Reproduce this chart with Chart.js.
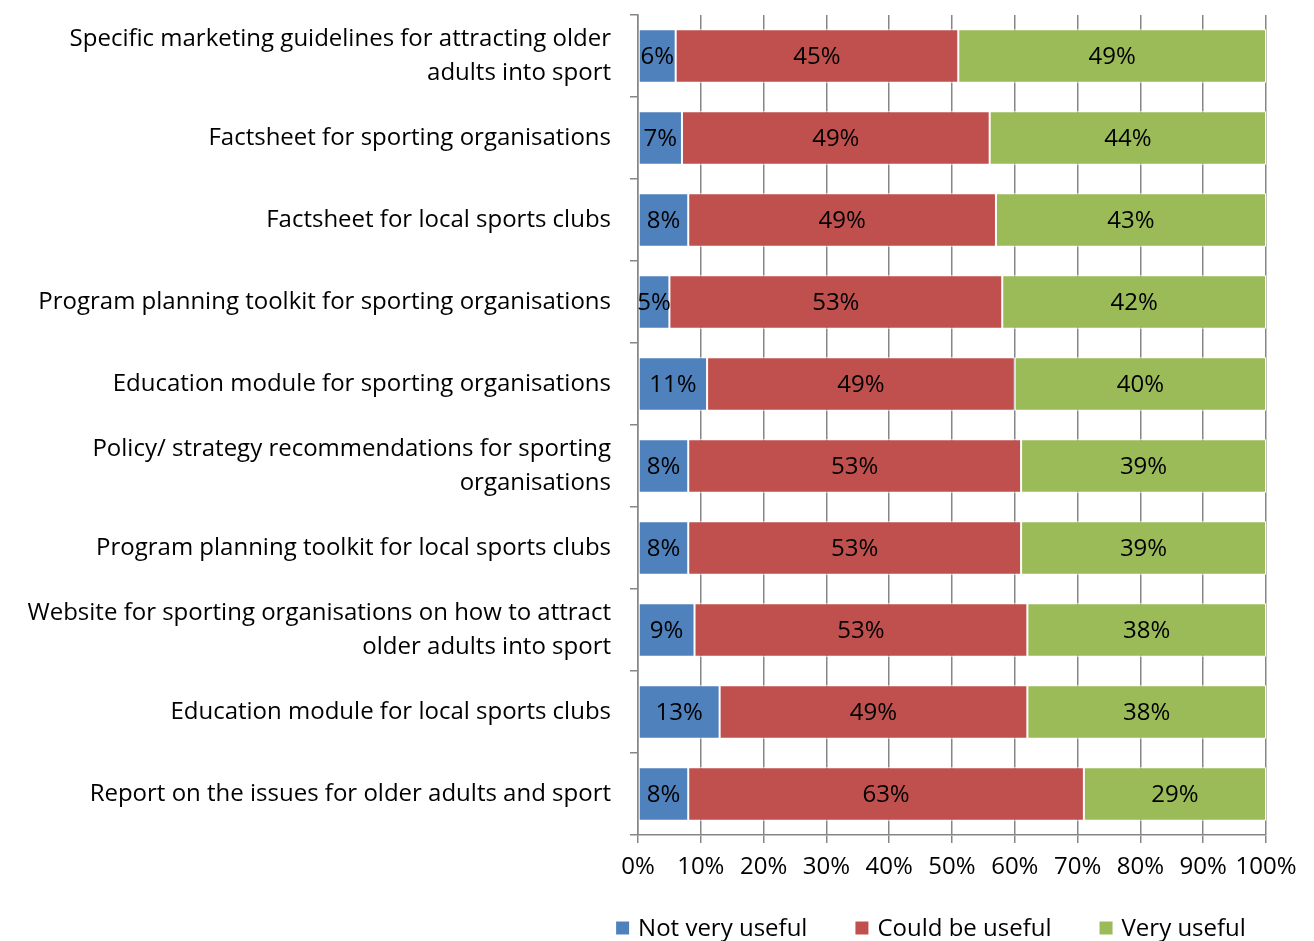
<!DOCTYPE html>
<html>
<head>
<meta charset="utf-8">
<script src="https://cdn.jsdelivr.net/npm/chart.js@4"></script>
<style>
  body { margin: 0; background: #fff; }
  #wrap { width: 1314px; height: 941px; }
</style>
</head>
<body>
<div id="wrap"><canvas id="bar_chart" width="1314" height="941"></canvas></div>
<script>
const FONT = "'Open Sans', sans-serif";
const FSIZE = 24;

const categories = [
  ["Specific marketing guidelines for attracting older", "adults into sport"],
  "Factsheet for sporting organisations",
  "Factsheet for local sports clubs",
  "Program planning toolkit for sporting organisations",
  "Education module for sporting organisations",
  ["Policy/ strategy recommendations for sporting", "organisations"],
  "Program planning toolkit for local sports clubs",
  ["Website for sporting organisations on how to attract", "older adults into sport"],
  "Education module for local sports clubs",
  "Report on the issues for older adults and sport"
];
const notVeryUseful = [6, 7, 8, 5, 11, 8, 8, 9, 13, 8];
const couldBeUseful = [45, 49, 49, 53, 49, 53, 53, 53, 49, 63];
const veryUseful = [49, 44, 43, 42, 40, 39, 39, 38, 38, 29];
const seriesNames = ["Not very useful", "Could be useful", "Very useful"];
const xTicks = [0, 10, 20, 30, 40, 50, 60, 70, 80, 90, 100];

// value labels in the middle of each segment
const barLabels = {
  id: 'barLabels',
  afterDatasetsDraw(chart) {
    const ctx = chart.ctx;
    ctx.save();
    ctx.font = FSIZE + "px " + FONT;
    ctx.fillStyle = "#000";
    ctx.textAlign = "center";
    ctx.textBaseline = "middle";
    chart.data.datasets.forEach((ds, i) => {
      chart.getDatasetMeta(i).data.forEach((el, j) => {
        ctx.fillText(ds.data[j] + "%", (el.x + el.base) / 2, el.y + 1);
      });
    });
    ctx.restore();
  }
};

// legend drawn under the axis, centred like the original
const bottomLegend = {
  id: 'bottomLegend',
  afterDraw(chart) {
    const ctx = chart.ctx;
    ctx.save();
    ctx.font = FSIZE + "px " + FONT;
    ctx.textBaseline = "middle";
    const box = 13, gap = 9, spacing = 48;
    const widths = chart.data.datasets.map(ds => box + gap + ctx.measureText(ds.label).width);
    const total = widths.reduce((a, b) => a + b, 0) + spacing * (widths.length - 1);
    let x = 931 - total / 2;
    const y = 928;
    chart.data.datasets.forEach((ds, i) => {
      ctx.fillStyle = ds.backgroundColor;
      ctx.fillRect(x, y - box / 2, box, box);
      ctx.fillStyle = "#000";
      ctx.fillText(ds.label, x + box + gap, y + 1);
      x += widths[i] + spacing;
    });
    ctx.restore();
  }
};

const data = {
  labels: categories,
  datasets: [
    { label: seriesNames[0], data: notVeryUseful, backgroundColor: "#4F81BD" },
    { label: seriesNames[1], data: couldBeUseful, backgroundColor: "#C0504D" },
    { label: seriesNames[2], data: veryUseful, backgroundColor: "#9BBB59" }
  ].map(d => Object.assign(d, {
    borderColor: "#fff",
    borderWidth: 1,
    borderSkipped: false,
    barPercentage: 0.65,
    categoryPercentage: 1
  }))
};

const config = {
  type: 'bar',
  data: data,
  options: {
    indexAxis: 'y',
    responsive: false,
    animation: false,
    layout: { padding: { top: 15, left: 15, right: 48, bottom: 55 } },
    plugins: {
      legend: { display: false },
      tooltip: { enabled: false }
    },
    scales: {
      x: {
        stacked: true,
        min: 0, max: 100,
        afterBuildTicks: (scale) => { scale.ticks = xTicks.map(v => ({ value: v })); },
        afterFit: (scale) => { scale.height = 51; scale.paddingLeft = 0; scale.paddingRight = 0; },
        ticks: { callback: v => v + "%", color: "#000", font: { family: FONT, size: FSIZE }, padding: 10, maxRotation: 0, autoSkip: false },
        grid: { color: "#868686", lineWidth: 1.5, tickLength: 8 },
        border: { color: "#868686", width: 1.5 }
      },
      y: {
        stacked: true,
        afterFit: (scale) => { scale.width = 623; scale.paddingTop = 0; scale.paddingBottom = 0; },
        ticks: { color: "#000", font: { family: FONT, size: FSIZE, lineHeight: 1.4 }, padding: 19 },
        grid: { drawOnChartArea: false, color: "#868686", lineWidth: 1.5, tickLength: 8, offset: true },
        border: { color: "#868686", width: 1.5 }
      }
    }
  },
  plugins: [barLabels, bottomLegend]
};

const ctx = document.getElementById('bar_chart').getContext('2d');
var myChart = new Chart(ctx, config);
</script>
</body>
</html>
